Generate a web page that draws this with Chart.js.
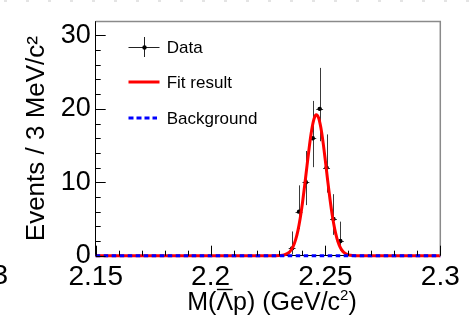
<!DOCTYPE html>
<html><head><meta charset="utf-8">
<script src="https://cdn.jsdelivr.net/npm/chart.js@4/dist/chart.umd.min.js"></script>
<style>html,body{margin:0;padding:0;background:#fff;overflow:hidden}#c{display:block}</style>
</head><body><canvas id="c" width="474" height="325"></canvas>
<script>
// ---- data ----
const binCenters = [2.2355, 2.2385, 2.2415, 2.2445, 2.2475, 2.2505, 2.2535, 2.2565];
const counts     = [1, 6, 10, 16, 20, 12, 5, 2];
const errLow     = [0.83, 2.38, 3.11, 3.94, 4.41, 3.41, 2.16, 1.29];
const errHigh    = [2.30, 3.58, 4.26, 5.08, 5.58, 4.52, 3.38, 2.64];
const binHalfWidth = 0.0015;

const fitX = [2.150, 2.226, 2.228, 2.230, 2.232, 2.234, 2.235, 2.236, 2.237, 2.238, 2.239, 2.240, 2.241, 2.242, 2.243, 2.244, 2.245, 2.246, 2.247, 2.248, 2.249, 2.250, 2.251, 2.252, 2.253, 2.254, 2.255, 2.256, 2.257, 2.258, 2.260, 2.262, 2.264, 2.266, 2.300];
const fitY = [0, 0, 0.003, 0.02, 0.10, 0.40, 0.74, 1.30, 2.15, 3.39, 5.07, 7.18, 9.66, 12.31, 14.90, 17.09, 18.60, 19.20, 18.79, 17.45, 15.37, 12.85, 10.18, 7.65, 5.46, 3.69, 2.37, 1.44, 0.83, 0.46, 0.12, 0.02, 0.003, 0, 0];

const bgX = [2.15, 2.30];
const bgY = [0, 0];

const xTickValues = [2.15, 2.2, 2.25, 2.3];
const xTickLabels = ['2.15', '2.2', '2.25', '2.3'];
const xMinorTicks = [2.16, 2.17, 2.18, 2.19, 2.21, 2.22, 2.23, 2.24, 2.26, 2.27, 2.28, 2.29];
const yTickValues = [0, 10, 20, 30];
const yTickLabels = ['0', '10', '20', '30'];
const yMinorTicks = [2, 4, 6, 8, 12, 14, 16, 18, 22, 24, 26, 28];

const legendLabels = ['Data', 'Fit result', 'Background'];
const yTitle = 'Events / 3 MeV/c\u00B2';
const xTitleParts = ['M(', '\u039B', 'p) (GeV/c', '2', ')'];
const strayLabel = '3';

const FONT = "'Liberation Sans', Arial, Helvetica, sans-serif";

const custom = {
  id: 'custom',
  beforeDatasetsDraw(chart) {
    const {ctx, scales: {x, y}} = chart;
    ctx.save();
    ctx.strokeStyle = '#3a3a3a';
    ctx.lineWidth = 1;
    binCenters.forEach((c, i) => {
      const px = Math.round(x.getPixelForValue(c)) + 0.5;
      const py = Math.round(y.getPixelForValue(counts[i])) + 0.5;
      const pyl = y.getPixelForValue(counts[i] - errLow[i]);
      const pyh = y.getPixelForValue(counts[i] + errHigh[i]);
      const pxl = x.getPixelForValue(c - binHalfWidth);
      const pxr = x.getPixelForValue(c + binHalfWidth);
      ctx.beginPath();
      ctx.moveTo(px, pyl); ctx.lineTo(px, pyh);
      ctx.moveTo(pxl, py); ctx.lineTo(pxr, py);
      ctx.stroke();
    });
    ctx.restore();
  },
  afterDraw(chart) {
    const {ctx, chartArea: a, scales: {x, y}} = chart;
    ctx.save();
    // faint dotted line at very top
    ctx.strokeStyle = '#e4e4e4';
    ctx.lineWidth = 2;
    ctx.setLineDash([3, 19]);
    ctx.beginPath(); ctx.moveTo(4, 1); ctx.lineTo(474, 1); ctx.stroke();
    ctx.setLineDash([]);
    // top & right frame
    ctx.strokeStyle = '#8a8a8a';
    ctx.lineWidth = 1.5;
    ctx.beginPath();
    ctx.moveTo(a.left, a.top); ctx.lineTo(a.right, a.top); ctx.lineTo(a.right, a.bottom);
    ctx.stroke();
    // ticks
    ctx.strokeStyle = '#000';
    ctx.lineWidth = 1;
    ctx.beginPath();
    yTickValues.forEach(v => { const p = Math.round(y.getPixelForValue(v)) + 0.5; ctx.moveTo(a.left, p); ctx.lineTo(a.left + 10, p); });
    yMinorTicks.forEach(v => { const p = Math.round(y.getPixelForValue(v)) + 0.5; ctx.moveTo(a.left, p); ctx.lineTo(a.left + 5, p); });
    xTickValues.forEach(v => { const p = Math.round(x.getPixelForValue(v)) + 0.5; ctx.moveTo(p, a.bottom); ctx.lineTo(p, a.bottom - 10); });
    xMinorTicks.forEach(v => { const p = Math.round(x.getPixelForValue(v)) + 0.5; ctx.moveTo(p, a.bottom); ctx.lineTo(p, a.bottom - 5); });
    ctx.stroke();

    // legend
    const lx0 = 128.5, lx1 = 159.5, tx = 166.7;
    const ly = [47, 82, 118];
    ctx.strokeStyle = '#222'; ctx.lineWidth = 1;
    ctx.beginPath();
    ctx.moveTo(lx0, ly[0] + 0.5); ctx.lineTo(lx1, ly[0] + 0.5);
    ctx.moveTo(144.5, 37); ctx.lineTo(144.5, 57);
    ctx.stroke();
    ctx.fillStyle = '#000';
    ctx.beginPath(); ctx.arc(144.5, ly[0] + 0.5, 2.2, 0, Math.PI * 2); ctx.fill();
    ctx.strokeStyle = '#ff0000'; ctx.lineWidth = 3;
    ctx.beginPath(); ctx.moveTo(lx0, ly[1]); ctx.lineTo(lx1, ly[1]); ctx.stroke();
    ctx.strokeStyle = '#0000ff'; ctx.lineWidth = 3; ctx.setLineDash([5, 3]);
    ctx.beginPath(); ctx.moveTo(lx0, ly[2]); ctx.lineTo(157, ly[2]); ctx.stroke();
    ctx.setLineDash([]);
    ctx.fillStyle = '#000';
    ctx.font = '17px ' + FONT;
    ctx.textAlign = 'left'; ctx.textBaseline = 'middle';
    legendLabels.forEach((t, i) => ctx.fillText(t, tx, ly[i] + 1.5));

    // x title with overline on Lambda and superscript
    const fs = 25, sfs = 15, base = 310;
    ctx.textBaseline = 'alphabetic';
    ctx.font = fs + 'px ' + FONT;
    const w0 = ctx.measureText(xTitleParts[0]).width;
    const w1 = ctx.measureText(xTitleParts[1]).width;
    const w2 = ctx.measureText(xTitleParts[2]).width;
    const w4 = ctx.measureText(xTitleParts[4]).width;
    ctx.font = sfs + 'px ' + FONT;
    const w3 = ctx.measureText(xTitleParts[3]).width;
    const total = w0 + w1 + w2 + w3 + w4;
    let cx = 272 - total / 2;
    ctx.font = fs + 'px ' + FONT;
    ctx.fillText(xTitleParts[0], cx, base); cx += w0;
    ctx.fillText(xTitleParts[1], cx, base);
    ctx.strokeStyle = '#000'; ctx.lineWidth = 1.4;
    ctx.beginPath(); ctx.moveTo(cx + 0.5, base - 20.5); ctx.lineTo(cx + w1 - 0.5, base - 20.5); ctx.stroke();
    cx += w1;
    ctx.fillText(xTitleParts[2], cx, base); cx += w2;
    ctx.font = sfs + 'px ' + FONT;
    ctx.fillText(xTitleParts[3], cx, base - 10); cx += w3;
    ctx.font = fs + 'px ' + FONT;
    ctx.fillText(xTitleParts[4], cx, base);

    // stray cropped label at left edge
    ctx.font = '28px ' + FONT;
    ctx.textAlign = 'right';
    ctx.fillText(strayLabel, 8, 283.5);
    ctx.restore();
  }
};

new Chart(document.getElementById('c'), {
  type: 'scatter',
  data: {
    datasets: [
      { label: legendLabels[2], type: 'line', data: bgX.map((v, i) => ({x: v, y: bgY[i]})),
        borderColor: '#0000ff', borderWidth: 3, borderDash: [4.5, 3.5], pointRadius: 0, fill: false, order: 0, clip: false },
      { label: legendLabels[1], type: 'line', data: fitX.map((v, i) => ({x: v, y: fitY[i]})),
        borderColor: '#ff0000', borderWidth: 3, pointRadius: 0, fill: false, cubicInterpolationMode: 'monotone', order: 1, clip: false },
      { label: legendLabels[0], data: binCenters.map((v, i) => ({x: v, y: counts[i]})),
        backgroundColor: '#000', borderColor: '#000', pointRadius: 2.2, borderWidth: 0, order: 2 }
    ]
  },
  options: {
    responsive: false, animation: false, devicePixelRatio: 1,
    layout: { padding: { left: 0, right: 33.7, top: 21.5, bottom: 0 } },
    plugins: { legend: { display: false }, tooltip: { enabled: false } },
    scales: {
      x: {
        type: 'linear', min: 2.15, max: 2.3,
        afterFit(s) { s.height = 69.3; },
        afterBuildTicks(s) { s.ticks = xTickValues.map(v => ({value: v})); },
        ticks: { callback: (v, i) => xTickLabels[i], font: { family: FONT, size: 28 }, color: '#000', padding: 5, maxRotation: 0, autoSkip: false },
        grid: { display: false, drawTicks: false },
        border: { display: true, color: '#000', width: 1 }
      },
      y: {
        type: 'linear', min: 0, max: 31.9,
        afterFit(s) { s.width = 95.7; },
        afterBuildTicks(s) { s.ticks = yTickValues.map(v => ({value: v})); },
        ticks: { callback: (v, i) => yTickLabels[i], font: { family: FONT, size: 27 }, color: '#000', padding: 5, autoSkip: false },
        grid: { display: false, drawTicks: false },
        border: { display: true, color: '#000', width: 1 },
        title: { display: true, text: yTitle, font: { family: FONT, size: 26 }, color: '#000', padding: { top: 21.5, bottom: 0 } }
      }
    }
  },
  plugins: [custom]
});
</script>
</body></html>
